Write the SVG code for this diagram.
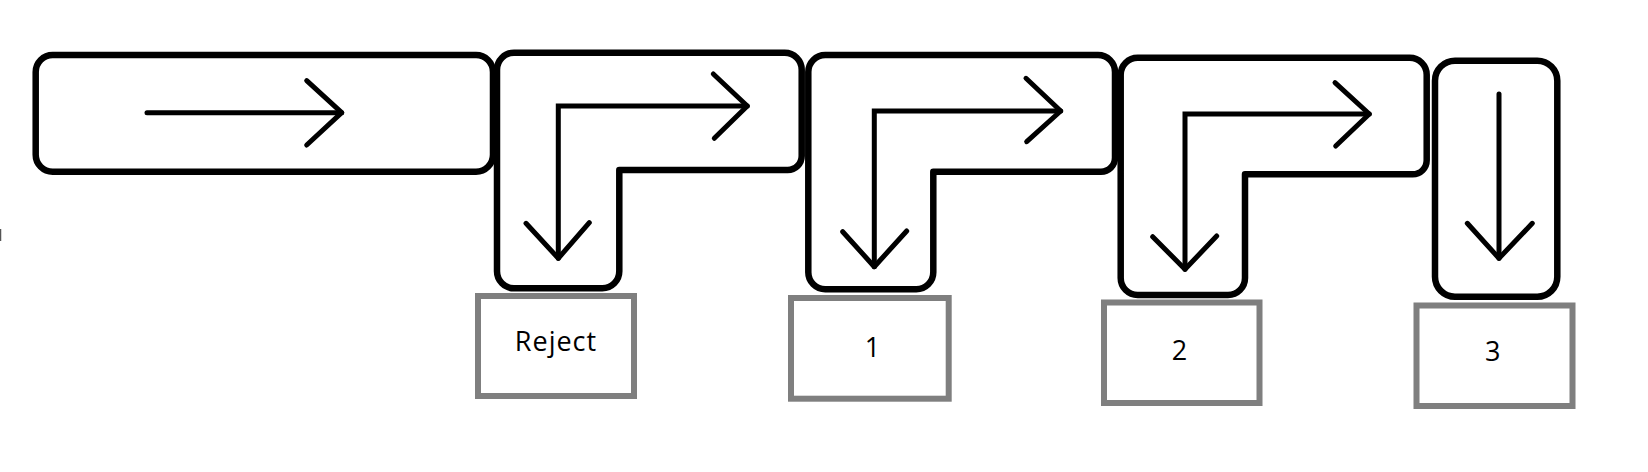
<svg xmlns="http://www.w3.org/2000/svg" width="1648" height="472" viewBox="0 0 1648 472">
  <style>
    .lane { fill: none; stroke: #000; stroke-width: 6.5; stroke-linejoin: round; }
    .out { fill: #fff; stroke: #7f7f7f; stroke-width: 6; }
    .lbl { font-family: "Open Sans", "Noto Sans", "Liberation Sans", sans-serif; font-size: 27px; fill: #000; text-anchor: middle; letter-spacing: 1px; }
    .flow { fill: none; stroke: #000; stroke-width: 5; stroke-linecap: round; stroke-linejoin: miter; }
    .head { fill: none; stroke: #000; stroke-width: 5; stroke-linecap: round; stroke-linejoin: round; }
  </style>
  <rect x="0" y="0" width="1648" height="472" fill="#fff"/>
  <line x1="0.5" y1="229" x2="0.5" y2="241" stroke="#555" stroke-width="1.5"/>

  <g id="lane-a">
    <rect class="lane" x="35.7" y="55" width="457.3" height="116.7" rx="17"/>
  </g>
  <g id="lane-b">
    <path class="lane" d="M 497 69.7 A 17 17 0 0 1 514 52.7 L 784.7 52.7 A 17 17 0 0 1 801.7 69.7 L 801.7 156 A 14 14 0 0 1 787.7 170 L 619.3 170 L 619.3 271.3 A 17 17 0 0 1 602.3 288.3 L 514 288.3 A 17 17 0 0 1 497 271.3 Z"/>
  </g>
  <g id="lane-c">
    <path class="lane" d="M 808.3 72 A 17 17 0 0 1 825.3 55 L 1098 55 A 17 17 0 0 1 1115 72 L 1115 157.7 A 14 14 0 0 1 1101 171.7 L 933.3 171.7 L 933.3 272.3 A 17 17 0 0 1 916.3 289.3 L 825.3 289.3 A 17 17 0 0 1 808.3 272.3 Z"/>
  </g>
  <g id="lane-d">
    <path class="lane" d="M 1120.7 74.7 A 17 17 0 0 1 1137.7 57.7 L 1409.7 57.7 A 17 17 0 0 1 1426.7 74.7 L 1426.7 160.3 A 14 14 0 0 1 1412.7 174.3 L 1245 174.3 L 1245 278 A 17 17 0 0 1 1228 295 L 1137.7 295 A 17 17 0 0 1 1120.7 278 Z"/>
  </g>
  <g id="lane-e">
    <rect class="lane" x="1435" y="60.7" width="122.3" height="236" rx="20"/>
  </g>

  <g id="out-reject">
    <rect class="out" x="478" y="296" width="156" height="100"/>
    <text class="lbl" x="556" y="350.7">Reject</text>
  </g>
  <g id="out-1">
    <rect class="out" x="791" y="298" width="157.7" height="100.7"/>
    <text class="lbl" x="873" y="356.7">1</text>
  </g>
  <g id="out-2">
    <rect class="out" x="1104" y="302.5" width="155.5" height="100.5"/>
    <text class="lbl" x="1180" y="360">2</text>
  </g>
  <g id="out-3">
    <rect class="out" x="1416.5" y="305.5" width="156" height="100.5"/>
    <text class="lbl" x="1493.3" y="361">3</text>
  </g>

  <g id="connectors">
    <line class="flow" x1="147" y1="112.7" x2="341.7" y2="112.7"/>
    <polyline class="head" points="306.7,80.7 341.7,112.7 306.7,145"/>

    <polyline class="flow" points="558.3,258.3 558.3,106 747.3,106"/>
    <polyline class="head" points="713.3,74 747.3,106 714.3,138.3"/>
    <polyline class="head" points="526,223.3 558.3,258.3 589.3,222.7"/>

    <polyline class="flow" points="874.3,266.7 874.3,111 1060.7,111"/>
    <polyline class="head" points="1026,78.3 1060.7,111 1026.7,141.7"/>
    <polyline class="head" points="842.7,231.7 874.3,266.7 906.7,231"/>

    <polyline class="flow" points="1185,269.3 1185,114 1369.3,114"/>
    <polyline class="head" points="1335,82.7 1369.3,114 1335.7,146"/>
    <polyline class="head" points="1152.7,236.7 1185,269.3 1216.7,236"/>

    <line class="flow" x1="1499" y1="94" x2="1499" y2="258.3"/>
    <polyline class="head" points="1467.3,223.3 1499,258.3 1532.3,223.3"/>
  </g>
</svg>
